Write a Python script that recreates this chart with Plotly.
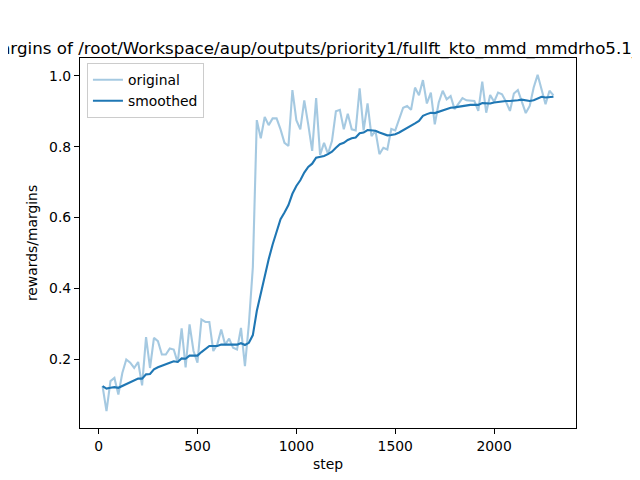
import plotly.graph_objects as go

# step values (one logged point every 20 steps)
steps = list(range(20, 2301, 20))

original = [
    0.124, 0.053, 0.138, 0.147, 0.100, 0.161, 0.199, 0.190, 0.175, 0.192,
    0.126, 0.262, 0.175, 0.260, 0.251, 0.213, 0.213, 0.230, 0.227, 0.190,
    0.287, 0.177, 0.298, 0.223, 0.190, 0.312, 0.305, 0.305, 0.223, 0.241,
    0.284, 0.241, 0.258, 0.232, 0.227, 0.288, 0.180, 0.300, 0.460, 0.875,
    0.824, 0.884, 0.861, 0.880, 0.880, 0.849, 0.811, 0.802, 0.960, 0.875,
    0.849, 0.931, 0.863, 0.788, 0.937, 0.777, 0.811, 0.780, 0.816, 0.900,
    0.904, 0.849, 0.893, 0.849, 0.846, 0.965, 0.846, 0.922, 0.830, 0.845,
    0.779, 0.797, 0.792, 0.850, 0.846, 0.877, 0.910, 0.915, 0.904, 0.967,
    0.945, 0.988, 0.922, 0.953, 0.863, 0.925, 0.958, 0.934, 0.943, 0.906,
    0.922, 0.937, 0.931, 0.931, 0.929, 0.901, 0.984, 0.896, 0.946, 0.927,
    0.953, 0.948, 0.927, 0.901, 0.950, 0.960, 0.929, 0.895, 0.915, 0.967,
    1.003, 0.958, 0.920, 0.958, 0.945,
]

smoothed = [
    0.124, 0.117, 0.119, 0.121, 0.119, 0.124, 0.130, 0.136, 0.140, 0.145,
    0.145, 0.157, 0.158, 0.171, 0.177, 0.182, 0.187, 0.190, 0.194, 0.192,
    0.202, 0.201, 0.210, 0.211, 0.210, 0.220, 0.229, 0.237, 0.237, 0.237,
    0.241, 0.241, 0.241, 0.243, 0.241, 0.245, 0.240, 0.246, 0.268, 0.336,
    0.388, 0.435, 0.482, 0.524, 0.562, 0.595, 0.614, 0.635, 0.667, 0.689,
    0.705, 0.727, 0.743, 0.752, 0.769, 0.771, 0.774, 0.779, 0.786, 0.797,
    0.807, 0.811, 0.819, 0.824, 0.826, 0.838, 0.840, 0.847, 0.846, 0.845,
    0.840, 0.835, 0.832, 0.833, 0.835, 0.840, 0.846, 0.852, 0.858, 0.866,
    0.873, 0.887, 0.892, 0.896, 0.895, 0.899, 0.903, 0.907, 0.910, 0.911,
    0.913, 0.915, 0.917, 0.918, 0.918, 0.918, 0.923, 0.922, 0.922, 0.925,
    0.927, 0.928, 0.929, 0.929, 0.929, 0.931, 0.933, 0.931, 0.929, 0.931,
    0.937, 0.941, 0.939, 0.940, 0.941,
]

# the long title runs past both edges of the figure, as in the original
title = "rewards/margins of /root/Workspace/aup/outputs/priority1/fullft_kto_mmd_mmdrho5.1_beta0.1_ep3"
FONT = "DejaVu Sans"
BLUE = "#1f77b4"

fig = go.Figure()
fig.add_trace(go.Scatter(x=steps, y=original, mode="lines", name="original",
                         line=dict(color="rgba(31,119,180,0.4)", width=2.1)))
fig.add_trace(go.Scatter(x=steps, y=smoothed, mode="lines", name="smoothed",
                         line=dict(color=BLUE, width=2.1)))

axis_style = dict(showline=True, linecolor="black", linewidth=1.1, mirror=True,
                  ticks="outside", ticklen=5, tickwidth=1.1, tickcolor="black",
                  showgrid=False, zeroline=False,
                  tickfont=dict(family=FONT, size=13.9, color="black"))
label_font = dict(family=FONT, size=13.9, color="black")

# page body has an 8px margin, so the margins are shifted by 8px
fig.update_layout(
    width=640, height=480,
    margin=dict(l=72, r=72, t=50, b=60),
    paper_bgcolor="white", plot_bgcolor="white",
    font=dict(family=FONT, size=13.9, color="black"),
    title=dict(text=title, x=0.5, xref="paper", xanchor="center",
               y=1 - 40 / 480, yref="container", yanchor="middle",
               font=dict(family=FONT, size=16.7, color="black")),
    xaxis=dict(range=[-94, 2414], tickvals=[0, 500, 1000, 1500, 2000],
               title=dict(text="step", standoff=6, font=label_font), **axis_style),
    yaxis=dict(range=[0.0055, 1.0505], tickvals=[0.2, 0.4, 0.6, 0.8, 1.0],
               tickformat=".1f",
               title=dict(text="rewards/margins", standoff=8, font=label_font),
               **axis_style),
    legend=dict(x=0.014, y=0.986, xanchor="left", yanchor="top",
                bgcolor="rgba(255,255,255,0.8)", bordercolor="#cccccc",
                borderwidth=1, itemwidth=30,
                font=dict(family=FONT, size=13.9, color="black")),
    showlegend=True,
)

fig.write_html("out.html")
